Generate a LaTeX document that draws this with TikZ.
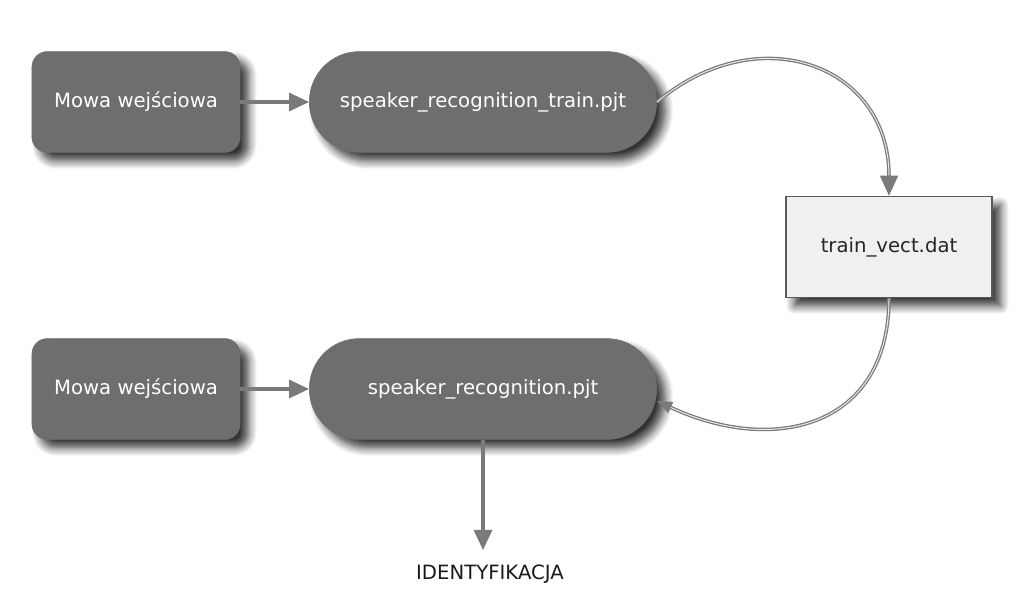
\documentclass[tikz,border=0pt]{standalone}
\usepackage{fontspec}
\setmainfont{DejaVu Sans}
\usepackage{tikz}
\usetikzlibrary{arrows.meta,shadows.blur}
\definecolor{spnode}{HTML}{6E6E6E}
\definecolor{spline}{HTML}{7A7A7A}
\definecolor{spfile}{HTML}{F0F0F0}
\tikzset{
  spshadow/.style={blur shadow={shadow xshift=6pt, shadow yshift=-6pt, shadow blur radius=6pt, shadow blur steps=8, shadow opacity=80}},
  spinput/.style={spshadow, fill=spnode, draw=spnode, rounded corners=0.38cm, minimum width=5.2cm, minimum height=2.52cm, text=white, font=\fontsize{14}{16}\selectfont},
  spproj/.style={spshadow, fill=spnode, draw=spnode, rounded corners=1.25cm, minimum width=8.68cm, minimum height=2.52cm, text=white, font=\fontsize{14}{16}\selectfont},
  spfilebox/.style={spshadow, fill=spfile, draw=black!65, line width=1.2pt, minimum width=5.15cm, minimum height=2.52cm, text=black!85, font=\fontsize{14}{16}\selectfont},
  spflow/.style={draw=spline, line width=2.2pt, -{Triangle[length=0.5cm, width=0.45cm]}},
  spcurve/.style={draw=spline, double=white!85!spline, double distance=0.7pt, line width=0.9pt},
}

\begin{document}
\begin{tikzpicture}[x=0.025cm, y=0.025cm]
\useasboundingbox (0,0) rectangle (1024,600);
\node[spinput] (in1) at (136,498) {Mowa wejściowa};
\node[spproj] (train) at (483,498) {speaker\_recognition\_train.pjt};
\node[spfilebox] (vect) at (889,353) {train\_vect.dat};
\node[spinput] (in2) at (136,211) {Mowa wejściowa};
\node[spproj] (recog) at (483,211) {speaker\_recognition.pjt};
\node[font=\fontsize{14}{16}\selectfont, text=black!90] (ident) at (490,26) {IDENTYFIKACJA};
\coordinate (identtop) at (483,50);
\draw[spflow] (in1.east) -- (train.west);
\draw[spflow] (in2.east) -- (recog.west);
\draw[spflow] (recog.south) -- (identtop);
\draw[spcurve, -{Triangle[length=0.5cm, width=0.45cm, fill=spline]}] (train.east) to[out=40, in=90, looseness=1.35] (vect.north);
\draw[spcurve, -{Triangle[length=0.38cm, width=0.3cm, fill=spline]}] (vect.south) to[out=-90, in=-25, looseness=1.3] ([yshift=-0.3cm]recog.east);
\end{tikzpicture}
\end{document}
